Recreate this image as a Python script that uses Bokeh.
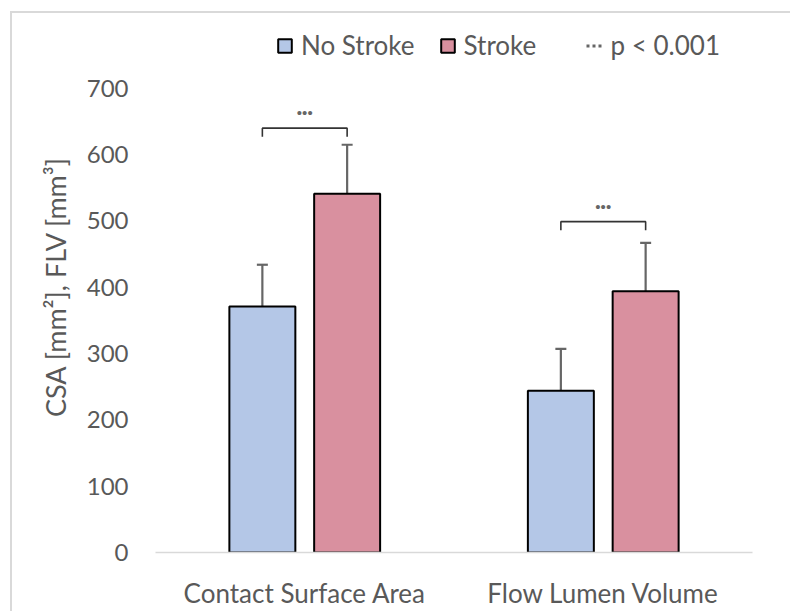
from bokeh.plotting import figure
from bokeh.models import (Range1d, FixedTicker, ColumnDataSource, Whisker, TeeHead,
                          Legend, LegendItem, GlobalInlineStyleSheet, Title)
from bokeh.embed import file_html
from bokeh.resources import INLINE

categories = ["Contact Surface Area", "Flow Lumen Volume"]
no_stroke = [371, 244]
no_stroke_err = [63, 63]
stroke = [541, 394]
stroke_err = [74, 73]
bracket_y = [640, 499]
y_ticks = [0, 100, 200, 300, 400, 500, 600, 700]

FONT = "Lato"
TXT = "#595959"
BLUE = "#B4C7E7"
PINK = "#D9909F"

centers = [i + 0.5 for i in range(len(categories))]
off = 0.142
bw = 0.221

# frame spans y=20..553 px; the 0..700 scale occupies 88..553 px, legend sits above it
y_max = 700
y_end = y_max * (553 - 20) / (553 - 88)

p = figure(width=790, height=611, output_backend="svg", toolbar_location=None,
           x_range=Range1d(0, 2), y_range=Range1d(0, y_end),
           min_border_left=155, min_border_right=38, min_border_top=20, min_border_bottom=58)
p.outline_line_color = None
p.grid.visible = False

x_ns = [c - off for c in centers]
x_s = [c + off for c in centers]
src_ns = ColumnDataSource(dict(x=x_ns, top=no_stroke,
                               lo=[v - e for v, e in zip(no_stroke, no_stroke_err)],
                               hi=[v + e for v, e in zip(no_stroke, no_stroke_err)]))
src_s = ColumnDataSource(dict(x=x_s, top=stroke,
                              lo=[v - e for v, e in zip(stroke, stroke_err)],
                              hi=[v + e for v, e in zip(stroke, stroke_err)]))

r_ns = p.vbar(x="x", top="top", width=bw, source=src_ns, fill_color=BLUE,
              line_color="black", line_width=2)
r_s = p.vbar(x="x", top="top", width=bw, source=src_s, fill_color=PINK,
             line_color="black", line_width=2)

for src in (src_ns, src_s):
    w = Whisker(base="x", upper="hi", lower="lo", source=src, line_color="#666666", line_width=2.2,
                upper_head=TeeHead(size=11, line_color="#666666", line_width=2.2),
                lower_head=TeeHead(size=11, line_color="#666666", line_width=2.2))
    p.add_layout(w)

# significance brackets
drop = 13
xs = [[a, a, b, b] for a, b in zip(x_ns, x_s)]
ys = [[y - drop, y, y, y - drop] for y in bracket_y]
p.multi_line(xs=xs, ys=ys, line_color="#333333", line_width=1.6)
p.text(x=centers, y=[y + 23 for y in bracket_y], text=["•••"] * len(centers),
       text_align="center", text_baseline="middle", text_font_size="15px",
       text_color="#666666")

# axes
p.yaxis.ticker = FixedTicker(ticks=y_ticks)
p.yaxis.axis_line_color = None
p.yaxis.major_tick_line_color = None
p.yaxis.minor_tick_line_color = None
p.yaxis.major_label_standoff = 21
p.yaxis.major_label_text_font_size = "24px"

p.xaxis.ticker = FixedTicker(ticks=centers)
p.xaxis.major_label_overrides = {c: n for c, n in zip(centers, categories)}
p.xaxis.axis_line_color = "#D9D9D9"
p.xaxis.axis_line_width = 1.5
p.xaxis.major_tick_line_color = None
p.xaxis.minor_tick_line_color = None
p.xaxis.major_label_standoff = 18
p.xaxis.major_label_text_font_size = "26px"
for ax in (p.xaxis[0], p.yaxis[0]):
    ax.major_label_text_font = FONT
    ax.major_label_text_color = TXT

ytitle = Title(text="CSA [mm²], FLV [mm³]", align="center", offset=-27, standoff=24,
               text_font=FONT, text_font_size="27px", text_font_style="normal",
               text_color=TXT)
p.add_layout(ytitle, "left")

# legend
r_dots = p.line(x=[0, 0], y=[-100, -100], line_color="#666666", line_width=3, line_dash="3 3")
leg = Legend(items=[LegendItem(label="No Stroke", renderers=[r_ns]),
                    LegendItem(label="Stroke", renderers=[r_s]),
                    LegendItem(label="p < 0.001", renderers=[r_dots])],
             orientation="horizontal", location=(121, 491),
             glyph_width=17, glyph_height=17, label_standoff=8, spacing=24, label_width=98,
             label_text_font=FONT, label_text_font_size="26px", label_text_color=TXT,
             border_line_color=None, background_fill_alpha=0, padding=0, margin=0)
p.add_layout(leg)

p.stylesheets = [GlobalInlineStyleSheet(css=(
    "html, body { overflow: hidden; }"
    " body::after { content: ''; position: fixed; left: 10px; top: 11px;"
    " width: 780px; height: 600px; box-sizing: border-box;"
    " border-left: 2px solid #D9D9D9; border-top: 2px solid #D9D9D9;"
    " pointer-events: none; z-index: 1000; }"
))]

open("out.html", "w").write(file_html(p, INLINE))
